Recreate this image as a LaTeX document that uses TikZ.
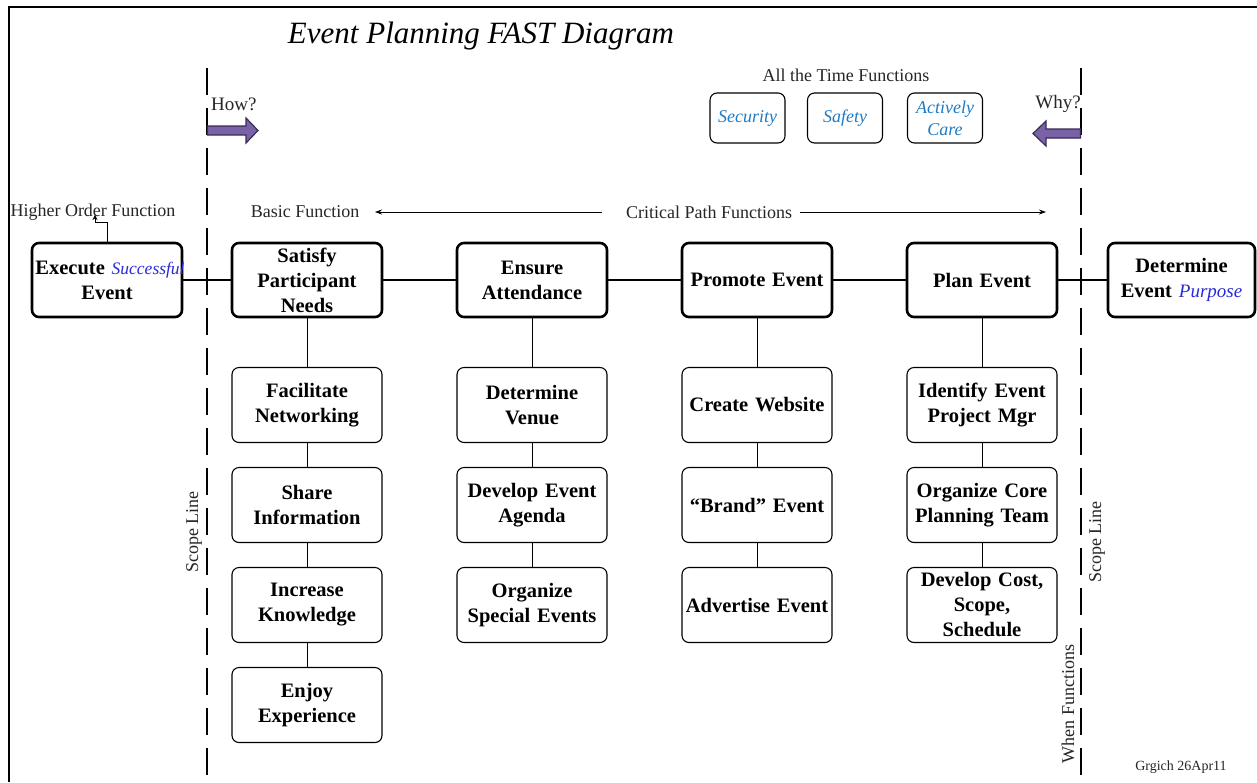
\documentclass[tikz,border=0pt]{standalone}
\usepackage{fontspec}
\setmainfont{Liberation Serif}
\usetikzlibrary{arrows.meta}
\definecolor{hiblue}{HTML}{2A2AD8}
\definecolor{skyblue}{HTML}{1F7BC4}
\definecolor{arrowfill}{HTML}{7A62A6}
\definecolor{arrowline}{HTML}{3A2C58}
\tikzset{
  mainbox/.style={draw, line width=2.6pt, rounded corners=7pt, minimum width=150pt,
    minimum height=74pt, text width=144pt, align=center, inner sep=2pt,
    font=\fontsize{20.5}{25}\selectfont\bfseries},
  subbox/.style={draw, line width=1.1pt, rounded corners=7pt, minimum width=150pt,
    minimum height=75pt, text width=144pt, align=center, inner sep=2pt,
    font=\fontsize{20.5}{25}\selectfont\bfseries},
  timebox/.style={draw, line width=1.1pt, rounded corners=7pt, minimum width=75pt,
    minimum height=50pt, text width=72pt, align=center, inner sep=1pt,
    font=\fontsize{18}{22}\selectfont\itshape, text=skyblue},
  lbl/.style={font=\fontsize{18}{21}\selectfont, text=black!85, inner sep=0pt},
  mainline/.style={line width=2.6pt},
  subline/.style={line width=0.8pt},
  scopeline/.style={line width=1.8pt, dash pattern=on 27pt off 13pt},
  bigarrow/.style={fill=arrowfill, draw=arrowline, line width=1.2pt, line join=miter},
  thinarrow/.style={line width=0.8pt, -{Stealth[length=7pt,width=5pt]}}
}
\begin{document}
\begin{tikzpicture}[x=1pt,y=-1pt]
\useasboundingbox (0,0) rectangle (1257,782);
\fill[white] (0,0) rectangle (1257,782);
% frame
\draw[line width=2.6pt] (9,782) -- (9,7) -- (1257,7);
% title
\node[inner sep=0pt, font=\fontsize{31}{36}\selectfont\itshape] (title) at (481,36) {Event Planning FAST Diagram};
% scope lines
\coordinate (sl1) at (207,68); \coordinate (sl2) at (207,776);
\coordinate (sr1) at (1081,68); \coordinate (sr2) at (1081,776);
\draw[scopeline] (sl1) -- (sl2);
\draw[scopeline] (sr1) -- (sr2);
% how / why
\node[lbl, font=\fontsize{19}{21}\selectfont, anchor=west] (how) at (211,104) {How?};
\node[lbl, font=\fontsize{19}{21}\selectfont, anchor=east] (why) at (1081,104) {Why?};
\draw[bigarrow] (207.5,126) -- (246,126) -- (246,118) -- (258,130.5) -- (246,143) -- (246,135) -- (207.5,135) -- cycle;
\draw[bigarrow] (1080.5,129) -- (1046,129) -- (1046,121) -- (1033,133.5) -- (1046,146) -- (1046,138) -- (1080.5,138) -- cycle;
% all the time functions
\node[lbl] (atf) at (846,75) {All the Time Functions};
\node[timebox] (sec) at (747.5,118) {Security};
\node[timebox] (saf) at (845,118) {Safety};
\node[timebox] (act) at (945,118) {Actively\\Care};
% labels row
\node[lbl] (hof) at (93,212) {Higher Order Function};
\node[lbl] (bf) at (305,212) {Basic Function};
\node[lbl] (cpf) at (709,212) {Critical Path Functions};
\coordinate (bfa) at (602,212); \coordinate (bfb) at (375,212);
\coordinate (cpa) at (800,212); \coordinate (cpb) at (1046,212);
\draw[thinarrow] (bfa) -- (bfb);
\draw[thinarrow] (cpa) -- (cpb);
% main boxes
\node[mainbox] (exec) at (107,280) {\makebox[0pt]{\hspace{6pt}Execute \textcolor{hiblue}{\fontsize{17.5}{25}\selectfont\mdseries\itshape Successful}}\\Event};
\node[mainbox] (sat) at (307,280) {Satisfy\\Participant\\Needs};
\node[mainbox] (ens) at (532,280) {Ensure\\Attendance};
\node[mainbox] (pro) at (757,280) {Promote Event};
\node[mainbox] (plan) at (982,280) {Plan Event};
\node[mainbox, minimum width=147pt, text width=140pt] (det) at (1181.5,280) {Determine\\Event \textcolor{hiblue}{\fontsize{19}{25}\selectfont\mdseries\itshape Purpose}};
\draw[mainline] (exec) -- (sat) -- (ens) -- (pro) -- (plan) -- (det);
% higher order connector
\coordinate (hoa) at (95,222); \coordinate (hob) at (95,215);
\draw[line width=0.8pt, -{Stealth[length=5pt,width=5pt]}] (exec.north) |- (hoa) -- (hob);
% column 1
\node[subbox] (a1) at (307,405) {Facilitate\\Networking};
\node[subbox] (a2) at (307,505) {Share\\Information};
\node[subbox] (a3) at (307,605) {Increase\\Knowledge};
\node[subbox] (a4) at (307,705) {Enjoy\\Experience};
% column 2
\node[subbox] (b1) at (532,405) {Determine\\Venue};
\node[subbox] (b2) at (532,505) {Develop Event\\Agenda};
\node[subbox] (b3) at (532,605) {Organize\\Special Events};
% column 3
\node[subbox] (c1) at (757,405) {Create Website};
\node[subbox] (c2) at (757,505) {“Brand” Event};
\node[subbox] (c3) at (757,605) {Advertise Event};
% column 4
\node[subbox] (d1) at (982,405) {Identify Event\\Project Mgr};
\node[subbox] (d2) at (982,505) {Organize Core\\Planning Team};
\node[subbox] (d3) at (982,605) {Develop Cost,\\Scope,\\Schedule};
% vertical connectors
\draw[subline] (sat) -- (a1) -- (a2) -- (a3) -- (a4);
\draw[subline] (ens) -- (b1) -- (b2) -- (b3);
\draw[subline] (pro) -- (c1) -- (c2) -- (c3);
\draw[subline] (plan) -- (d1) -- (d2) -- (d3);
% rotated labels
\node[lbl, rotate=90] (scl) at (194,532) {Scope Line};
\node[lbl, rotate=90] (scr) at (1097,542) {Scope Line};
\node[lbl, rotate=90] (whenf) at (1068,704) {When Functions};
\node[lbl, font=\fontsize{14}{16}\selectfont] (sig) at (1181,767) {Grgich 26Apr11};
\end{tikzpicture}
\end{document}
